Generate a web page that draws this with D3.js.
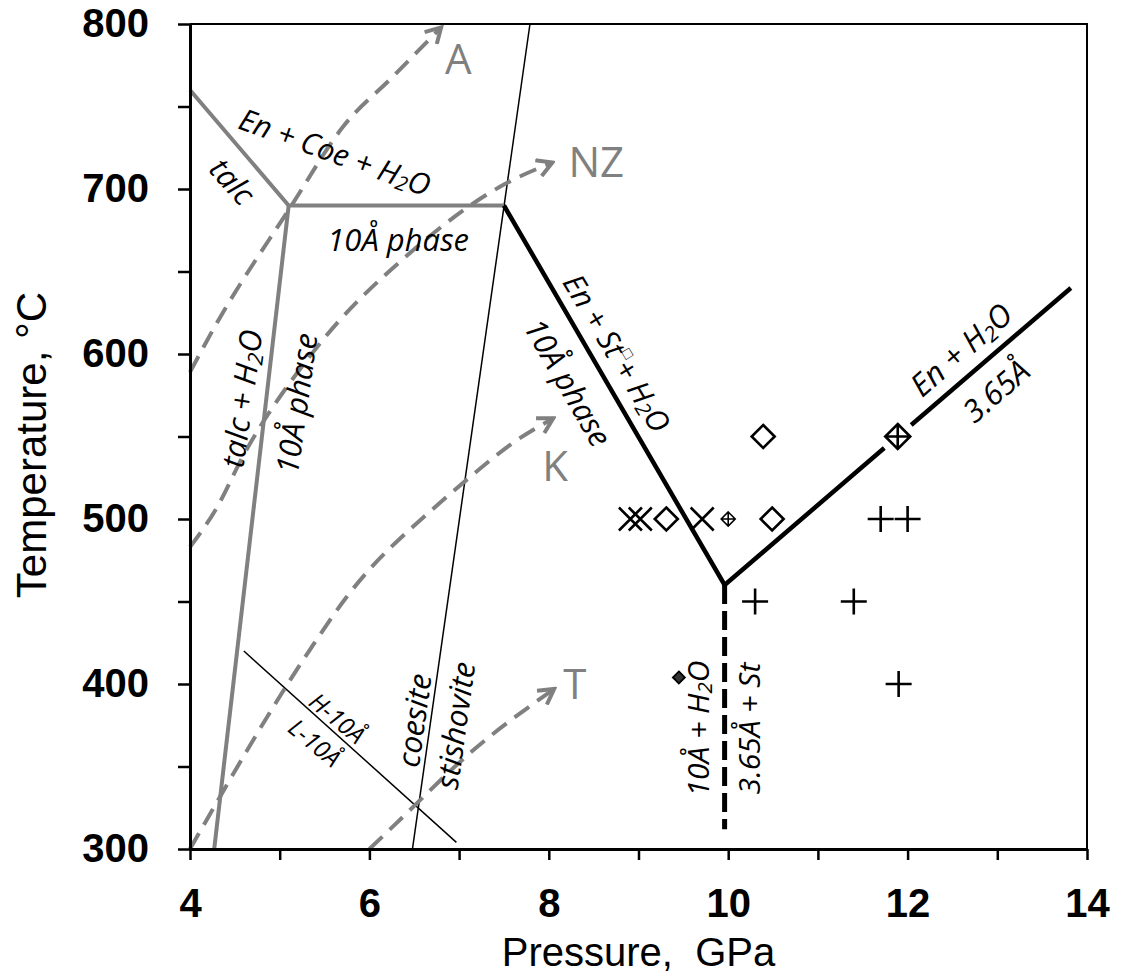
<!DOCTYPE html>
<html>
<head>
<meta charset="utf-8">
<script src="https://cdn.jsdelivr.net/npm/d3@7"></script>
<style>
  body { margin: 0; background: #fff; }
  svg { display: block; }
</style>
</head>
<body>
<svg></svg>
<script>
'use strict';

// ---- data (pressure in GPa, temperature in C) ----
var xTicks = [4, 5, 6, 7, 8, 9, 10, 11, 12, 13, 14];
var xTickLabels = ['4', '', '6', '', '8', '', '10', '', '12', '', '14'];
var yTicks = [300, 350, 400, 450, 500, 550, 600, 650, 700, 750, 800];
var yTickLabels = ['300', '', '400', '', '500', '', '600', '', '700', '', '800'];

// grey reactions (talc / 10A phase)
var talcOut = [[4.0, 760], [5.1, 690], [7.5, 690]];
var talcTenA = [[5.1, 690], [4.27, 300]];
// black reactions
var tenAOut = [[7.5, 690], [9.96, 460], [11.74, 543]];
var enH2O = [[12.04, 557], [13.82, 640]];
var tenAvs365 = [[9.96, 460], [9.96, 312]];
// thin lines
var coeSt = [[6.48, 300], [7.79, 800]];
var hlTenA = [[4.6, 420], [6.97, 304]];

// subduction geotherms
var geoA = [[4.0, 589], [4.27, 616], [5.12, 689], [5.71, 738], [6.26, 768], [6.80, 798]];
var geoNZ = [[4.0, 483], [4.30, 507], [4.59, 538], [5.37, 601], [6.49, 663], [7.51, 703], [8.04, 716]];
var geoK = [[4.0, 300], [5.34, 421], [5.75, 453], [6.79, 510], [7.09, 524], [7.65, 548], [8.05, 561]];
var geoT = [[6.0, 300], [6.27, 314], [7.16, 360], [8.06, 397]];
var geoNames = ['A', 'NZ', 'K', 'T'];
var geoNamePos = [[6.99, 770], [8.53, 707], [8.07, 523], [8.29, 391]];

// experimental runs
var plusPts = [[10.3, 450], [11.4, 450], [11.7, 500], [12.0, 500], [11.9, 400]];
var crossPts = [[8.91, 500], [9.02, 500], [9.71, 500]];
var diamondPts = [[9.31, 500], [10.39, 550], [10.49, 500]];
var diamondPlusPts = [[11.89, 550]];
var smallDiamondPlusPts = [[10.0, 500]];
var filledPts = [[9.45, 404]];

// field labels: text parts, anchor (P, T), rotation
var fieldLabels = [
  { parts: [['En + Coe + H'], ['2', 'sub'], ['O']], p: 5.62, t: 723, rot: 20, size: 30 },
  { parts: [['talc']], p: 4.48, t: 705, rot: 48, size: 31 },
  { parts: [['10Å phase']], p: 6.32, t: 670, rot: 0, size: 31 },
  { parts: [['talc + H'], ['2', 'sub'], ['O']], p: 4.57, t: 573, rot: -82, size: 31 },
  { parts: [['10Å phase']], p: 5.18, t: 570, rot: -82, size: 31 },
  { parts: [['En + St'], ['□', 'sup'], ['+ H'], ['2', 'sub'], ['O']], p: 8.77, t: 601, rot: 59, size: 30 },
  { parts: [['10Å phase']], p: 8.22, t: 583, rot: 60, size: 31 },
  { parts: [['En + H'], ['2', 'sub'], ['O']], p: 12.59, t: 603, rot: -41, size: 31 },
  { parts: [['3.65Å']], p: 12.98, t: 578, rot: -41, size: 31 },
  { parts: [['10Å + H'], ['2', 'sub'], ['O']], p: 9.65, t: 373, rot: -90, size: 30 },
  { parts: [['3.65Å + St']], p: 10.22, t: 373, rot: -90, size: 30 },
  { parts: [['coesite']], p: 6.49, t: 378, rot: -82, size: 31 },
  { parts: [['stishovite']], p: 6.95, t: 375, rot: -82, size: 31 },
  { parts: [['H-10Å']], p: 5.65, t: 380, rot: 40, size: 24 },
  { parts: [['L-10Å']], p: 5.40, t: 365, rot: 40, size: 24 }
];

// ---- chart ----
var canvasWidth = 1122;
var canvasHeight = 976;
var margin = { top: 24, right: 35, bottom: 127, left: 190 };
var width = canvasWidth - margin.left - margin.right;
var height = canvasHeight - margin.top - margin.bottom;
var grey = '#808080';

var svg = d3.select('svg')
  .attr('width', canvasWidth)
  .attr('height', canvasHeight);

var xScale = d3.scaleLinear().domain([4, 14]).range([margin.left, margin.left + width]);
var yScale = d3.scaleLinear().domain([300, 800]).range([margin.top + height, margin.top]);

var line = d3.line()
  .x(function(d) { return xScale(d[0]); })
  .y(function(d) { return yScale(d[1]); });
var curve = d3.line()
  .curve(d3.curveMonotoneX)
  .x(function(d) { return xScale(d[0]); })
  .y(function(d) { return yScale(d[1]); });

// open arrow head for geotherms
svg.append('defs').append('marker')
  .attr('id', 'arrow')
  .attr('viewBox', '0 0 20 20')
  .attr('refX', 17)
  .attr('refY', 10)
  .attr('markerUnits', 'userSpaceOnUse')
  .attr('markerWidth', 20)
  .attr('markerHeight', 20)
  .attr('orient', 'auto')
  .append('path')
    .attr('d', 'M2,1.5L17,10L2,18.5')
    .attr('fill', 'none')
    .attr('stroke', grey)
    .attr('stroke-width', 4)
    .attr('stroke-linejoin', 'miter');

// frame (top and right)
svg.append('path')
  .attr('d', 'M' + xScale(4) + ',' + yScale(800) + 'H' + xScale(14) + 'V' + yScale(300))
  .attr('fill', 'none')
  .attr('stroke', '#000')
  .attr('stroke-width', 2);

// thin black lines
[coeSt, hlTenA].forEach(function(d) {
  svg.append('path')
    .attr('d', line(d))
    .attr('fill', 'none')
    .attr('stroke', '#000')
    .attr('stroke-width', 1.5);
});

// geotherms
[geoA, geoNZ, geoK, geoT].forEach(function(d) {
  svg.append('path')
    .attr('d', curve(d))
    .attr('fill', 'none')
    .attr('stroke', grey)
    .attr('stroke-width', 4)
    .attr('stroke-dasharray', '18,10')
    .attr('marker-end', 'url(#arrow)');
});

svg.selectAll('.geoname')
  .data(geoNames)
  .enter()
  .append('text')
    .attr('class', 'geoname')
    .attr('x', function(d, i) { return xScale(geoNamePos[i][0]); })
    .attr('y', function(d, i) { return yScale(geoNamePos[i][1]); })
    .attr('text-anchor', 'middle')
    .style('font-family', '"Open Sans", sans-serif')
    .style('font-size', '42px')
    .style('fill', grey)
    .text(function(d) { return d; });

// grey reaction lines
[talcOut, talcTenA].forEach(function(d) {
  svg.append('path')
    .attr('d', line(d))
    .attr('fill', 'none')
    .attr('stroke', grey)
    .attr('stroke-width', 4)
    .attr('stroke-linejoin', 'miter');
});

// black reaction lines
[tenAOut, enH2O].forEach(function(d) {
  svg.append('path')
    .attr('d', line(d))
    .attr('fill', 'none')
    .attr('stroke', '#000')
    .attr('stroke-width', 4.5)
    .attr('stroke-linejoin', 'miter');
});
svg.append('path')
  .attr('d', line(tenAvs365))
  .attr('fill', 'none')
  .attr('stroke', '#000')
  .attr('stroke-width', 5)
  .attr('stroke-dasharray', '19,7');

// run symbols
function drawSymbols(pts, shape, sw) {
  svg.append('g')
    .selectAll('path')
    .data(pts)
    .enter()
    .append('path')
      .attr('transform', function(d) { return 'translate(' + xScale(d[0]) + ',' + yScale(d[1]) + ')'; })
      .attr('d', shape)
      .attr('fill', 'none')
      .attr('stroke', '#000')
      .attr('stroke-width', sw);
}
drawSymbols(plusPts, 'M-13,0H13M0,-13V13', 2.6);
drawSymbols(crossPts, 'M-11.5,-11.5L11.5,11.5M11.5,-11.5L-11.5,11.5', 2.6);
drawSymbols(diamondPts, 'M0,-11.5L11.5,0L0,11.5L-11.5,0Z', 2.6);
drawSymbols(diamondPlusPts, 'M0,-12.5L12.5,0L0,12.5L-12.5,0ZM-12.5,0H12.5M0,-12.5V12.5', 2.6);
drawSymbols(smallDiamondPlusPts, 'M0,-7L7,0L0,7L-7,0ZM-7,0H7M0,-7V7', 1.6);
svg.append('g')
  .selectAll('path')
  .data(filledPts)
  .enter()
  .append('path')
    .attr('transform', function(d) { return 'translate(' + xScale(d[0]) + ',' + yScale(d[1]) + ')'; })
    .attr('d', 'M0,-6L6,0L0,6L-6,0Z')
    .attr('fill', '#333')
    .attr('stroke', '#000')
    .attr('stroke-width', 1.8);

// field labels
fieldLabels.forEach(function(l) {
  var t = svg.append('text')
    .attr('transform', 'translate(' + xScale(l.p) + ',' + yScale(l.t) + ') rotate(' + l.rot + ')')
    .attr('text-anchor', 'middle')
    .attr('dominant-baseline', 'central')
    .style('font-family', '"Open Sans", sans-serif')
    .style('font-style', 'italic')
    .style('font-size', l.size + 'px')
    .style('fill', '#000');
  var shift = 0;
  l.parts.forEach(function(part) {
    var s = t.append('tspan').text(part[0]);
    var want = 0;
    if (part[1] === 'sub') {
      want = 7;
      s.style('font-size', (l.size * 0.68) + 'px');
    } else if (part[1] === 'sup') {
      want = -9;
      s.style('font-size', (l.size * 0.5) + 'px').style('font-style', 'normal');
    }
    if (want !== shift) {
      s.attr('dy', (want - shift) + 'px');
      shift = want;
    }
  });
});

// axes
var xAxis = d3.axisBottom(xScale)
  .tickValues(xTicks)
  .tickFormat(function(d, i) { return xTickLabels[i]; })
  .tickSize(11)
  .tickSizeOuter(0)
  .tickPadding(29);
var yAxis = d3.axisLeft(yScale)
  .tickValues(yTicks)
  .tickFormat(function(d, i) { return yTickLabels[i]; })
  .tickSize(12)
  .tickSizeOuter(0)
  .tickPadding(29);

var gx = svg.append('g')
  .attr('transform', 'translate(0,' + yScale(300) + ')')
  .call(xAxis);
var gy = svg.append('g')
  .attr('transform', 'translate(' + xScale(4) + ',0)')
  .call(yAxis);

[gx, gy].forEach(function(g) {
  g.select('.domain').attr('stroke', '#000').attr('stroke-width', 3);
  g.selectAll('.tick line').attr('stroke', '#000').attr('stroke-width', 2.5);
  g.selectAll('.tick text')
    .attr('fill', '#000')
    .style('font-family', '"Liberation Sans", Arial, sans-serif')
    .style('font-weight', 'bold')
    .style('font-size', '40px');
});

// axis titles
svg.append('text')
  .attr('x', xScale(9))
  .attr('y', 966)
  .attr('text-anchor', 'middle')
  .style('font-family', '"Liberation Sans", Arial, sans-serif')
  .style('font-size', '40px')
  .style('white-space', 'pre')
  .text('Pressure,\u00a0 GPa');

svg.append('text')
  .attr('transform', 'translate(46,' + 445 + ') rotate(-90)')
  .attr('text-anchor', 'middle')
  .style('font-family', '"Liberation Sans", Arial, sans-serif')
  .style('font-size', '42px')
  .text('Temperature, °C');
</script>
</body>
</html>
